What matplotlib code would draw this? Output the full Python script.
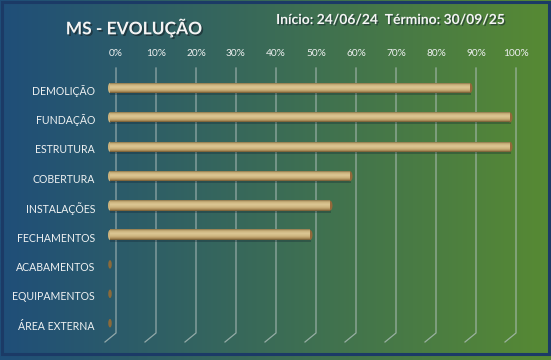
import numpy as np
import matplotlib
matplotlib.use("Agg")
import matplotlib.pyplot as plt
from matplotlib.patches import Ellipse, Rectangle
from matplotlib.colors import LinearSegmentedColormap, to_rgb
import matplotlib.patheffects as pe

categories = ["DEMOLIÇÃO", "FUNDAÇÃO", "ESTRUTURA", "COBERTURA", "INSTALAÇÕES",
              "FECHAMENTOS", "ACABAMENTOS", "EQUIPAMENTOS", "ÁREA EXTERNA"]
values = [90, 100, 100, 60, 55, 50, 0, 0, 0]
xticks = [0, 10, 20, 30, 40, 50, 60, 70, 80, 90, 100]
xtick_labels = [f"{t}%" for t in xticks]
title = "MS - EVOLUÇÃO"
subtitle = "Início: 24/06/24  Término: 30/09/25"

W, H, DPI = 551, 360, 100
fig = plt.figure(figsize=(W / DPI, H / DPI), dpi=DPI)
FONT = ["Lato", "DejaVu Sans"]

# background gradient
bg = fig.add_axes([0, 0, 1, 1], zorder=-10)
left_c = np.array(to_rgb("#1f4e79"))
right_c = np.array(to_rgb("#578a33"))
t = np.linspace(0, 1, 256)
grad = (left_c[None, :] * (1 - t[:, None]) + right_c[None, :] * t[:, None])[None, :, :]
bg.imshow(grad, extent=[0, 1, 0, 1], aspect="auto", transform=bg.transAxes)
bg.add_patch(Rectangle((1.5 / W, 1 - 353.5 / H), (547 / W), (352 / H),
                       transform=bg.transAxes, fill=False, ec="#1b3a66", lw=2.2))
bg.set_xlim(0, 1); bg.set_ylim(0, 1)
bg.axis("off")

# main axes (front plane of bars)
px_left, px_right, px_top, px_bot = 110, 510, 68, 342
ax = fig.add_axes([px_left / W, 1 - px_bot / H, (px_right - px_left) / W, (px_bot - px_top) / H])
ax.patch.set_alpha(0)
for s in ax.spines.values():
    s.set_visible(False)
ax.set_xticks([]); ax.set_yticks([])

xmax = 100.0
unit = xmax / (px_right - px_left)   # data units per pixel
back_dx = 6 * unit                   # back plane offset
floor_dx = -5 * unit
floor_y = (px_bot - 333) / (px_bot - px_top)

# gridlines with 3D floor
trans = ax.get_xaxis_transform()
for v, lab in zip(xticks, xtick_labels):
    ax.plot([v + back_dx, v + back_dx, v + floor_dx], [1.0, floor_y, 0.0],
            transform=trans, color="#b4c2c0", lw=0.9, alpha=0.75, zorder=1, clip_on=False)
    ax.text(v + back_dx, (px_bot - 54) / (px_bot - px_top), lab, transform=trans,
            ha="center", va="center", fontsize=7.3, color="#eef0f0", family=FONT)

n = len(categories)
pitch = 29.4
ylo = (px_top - 88) / pitch
yhi = (px_bot - 88) / pitch
bar_h = 10 / pitch

cmap = LinearSegmentedColormap.from_list("cyl", [
    (0.0, "#8a7448"), (0.15, "#c9b07a"), (0.4, "#dcc794"),
    (0.65, "#cfb680"), (0.85, "#ad8f5a"), (1.0, "#6e5530")])
col = cmap(np.linspace(0, 1, 64))[:, None, :]

for i, (cat, v) in enumerate(zip(categories, values)):
    ax.text(-15 * unit, i + 3 / pitch, cat, ha="right", va="center", fontsize=7.6,
            color="#f0f2f2", family=FONT)
    if v > 0:
        # shadow
        ax.add_patch(Rectangle((0, i - bar_h / 2 + 2 / pitch), v + 1.0 * unit, bar_h,
                               color="#102030", alpha=0.3, lw=0, zorder=2, clip_on=False))
        # left cap
        ax.add_patch(Ellipse((0, i), 4 * unit, bar_h, color="#cdb47e", zorder=3, lw=0,
                             clip_on=False))
        # right cap
        ax.add_patch(Ellipse((v, i), 5 * unit, bar_h, color="#94683a", zorder=3, lw=0,
                             clip_on=False))
        ax.imshow(col, extent=[0, v, i + bar_h / 2, i - bar_h / 2], aspect="auto",
                  zorder=4, interpolation="bilinear", clip_on=False)
    else:
        ax.add_patch(Ellipse((v, i), 3.5 * unit, bar_h * 0.85, color="#8c6a3a", zorder=3,
                             lw=0, clip_on=False))

ax.set_xlim(0, xmax)
ax.set_ylim(yhi, ylo)

# titles
fig.text(134 / W, 1 - 28 / H, title, ha="center", va="center", fontsize=12.5,
         fontweight="bold", color="#f4f4f4", family=FONT,
         path_effects=[pe.withSimplePatchShadow(offset=(1.2, -1.2), shadow_rgbFace="#1a2a30", alpha=0.7)])
fig.text(391 / W, 1 - 20 / H, subtitle, ha="center", va="center", fontsize=10,
         fontweight="bold", color="#f4f4f4", family=FONT,
         path_effects=[pe.withSimplePatchShadow(offset=(1, -1), shadow_rgbFace="#1a2a30", alpha=0.6)])

fig.savefig("out.png", dpi=DPI)
